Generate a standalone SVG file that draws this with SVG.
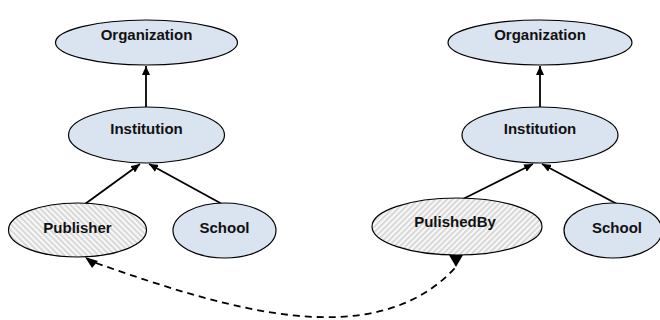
<svg xmlns="http://www.w3.org/2000/svg" width="660" height="320" viewBox="0 0 660 320">
<defs>
<style>
.n{fill:#dae3f0;stroke:#000;stroke-width:1.2}
.h1{fill:url(#hatchA);stroke:#000;stroke-width:1.2}
.h2{fill:url(#hatchB);stroke:#000;stroke-width:1.2}
.t{font-family:"Liberation Sans",Arial,sans-serif;font-weight:bold;font-size:15px;fill:#111;text-anchor:middle}
.e{fill:none;stroke:#000;stroke-width:1.8}
.d{fill:none;stroke:#000;stroke-width:1.8;stroke-dasharray:7,5}
</style>
<pattern id="hatchA" patternUnits="userSpaceOnUse" width="4" height="4" patternTransform="rotate(-45)">
<rect width="4" height="4" fill="#f8f8f8"/>
<line x1="1" y1="0" x2="1" y2="4" stroke="#c4c4c4" stroke-width="1.2"/>
</pattern>
<pattern id="hatchB" patternUnits="userSpaceOnUse" width="4" height="4" patternTransform="rotate(45)">
<rect width="4" height="4" fill="#f8f8f8"/>
<line x1="1" y1="0" x2="1" y2="4" stroke="#c4c4c4" stroke-width="1.2"/>
</pattern>
<marker id="arr" markerUnits="userSpaceOnUse" markerWidth="10" markerHeight="8" refX="9" refY="4" orient="auto">
<path d="M0,0 L9,4 L0,8 z" fill="#000"/>
</marker>
<marker id="arrDown" markerUnits="userSpaceOnUse" markerWidth="14" markerHeight="14" refX="12" refY="7" orient="90">
<path d="M0,0 L12,7 L0,14 z" fill="#000"/>
</marker>
</defs>
<rect width="660" height="320" fill="#fff"/>
<g id="connectors">
<line class="e" x1="146" y1="107" x2="146" y2="66" marker-end="url(#arr)"/>
<line class="e" x1="85" y1="204" x2="140" y2="164" marker-end="url(#arr)"/>
<line class="e" x1="222" y1="204" x2="149" y2="164" marker-end="url(#arr)"/>
<line class="e" x1="540" y1="107" x2="540" y2="66" marker-end="url(#arr)"/>
<line class="e" x1="463" y1="199" x2="533" y2="164" marker-end="url(#arr)"/>
<line class="e" x1="617" y1="204" x2="542" y2="164" marker-end="url(#arr)"/>
<path class="d" d="M 96,263 C 230,310 375,355 456,267" marker-end="url(#arrDown)"/>
<path d="M85,257 L98,261 L92,268 z" fill="#000"/>
</g>
<g id="org-left"><ellipse class="n" cx="146.5" cy="42.5" rx="91" ry="22.5"/><text class="t" x="146.5" y="40">Organization</text></g>
<g id="inst-left"><ellipse class="n" cx="146.5" cy="135" rx="78" ry="28"/><text class="t" x="146.5" y="134">Institution</text></g>
<g id="publisher"><ellipse class="h1" cx="77.5" cy="230" rx="69" ry="27"/><text class="t" x="77.5" y="233">Publisher</text></g>
<g id="school-left"><ellipse class="n" cx="224.5" cy="230.5" rx="51.5" ry="27.5"/><text class="t" x="224.5" y="233">School</text></g>
<g id="org-right"><ellipse class="n" cx="540" cy="42.5" rx="92" ry="22.5"/><text class="t" x="540" y="40">Organization</text></g>
<g id="inst-right"><ellipse class="n" cx="540" cy="135" rx="78" ry="28"/><text class="t" x="540" y="134">Institution</text></g>
<g id="pulishedby"><ellipse class="h2" cx="457" cy="226.5" rx="85" ry="28.5"/><text class="t" x="455" y="227">PulishedBy</text></g>
<g id="school-right"><ellipse class="n" cx="613" cy="230.5" rx="49" ry="27.5"/><text class="t" x="617" y="233">School</text></g>
</svg>
